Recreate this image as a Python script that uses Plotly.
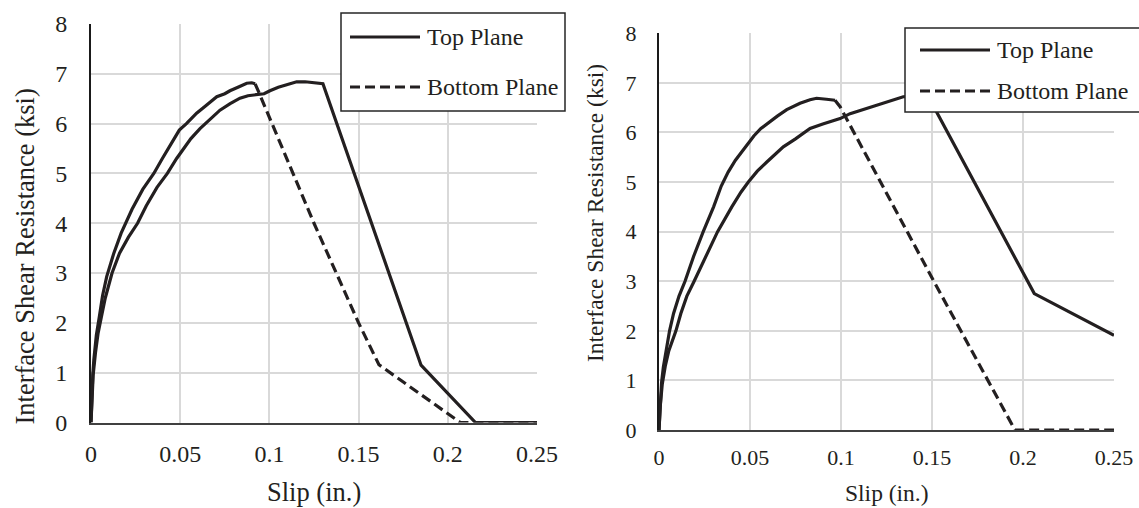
import plotly.graph_objects as go

# ---- data: slip (in.) vs interface shear resistance (ksi) ----
# Specimen A (left panel)
a_top_slip = [0, 0.0005, 0.0012, 0.0025, 0.0040, 0.0057, 0.0080, 0.0118, 0.0160, 0.0210,
              0.0261, 0.0310, 0.0370, 0.0428, 0.0480, 0.0520, 0.0560, 0.0611, 0.0660,
              0.0723, 0.0780, 0.0835, 0.0880, 0.0929, 0.0970, 0.1003, 0.1050, 0.1097, 0.1153,
              0.1200, 0.1250, 0.1300, 0.1850, 0.2155, 0.2500]
a_top_shear = [0, 0.55, 0.95, 1.40, 1.80, 2.10, 2.50, 3.00, 3.40, 3.72,
               4.00, 4.35, 4.72, 5.00, 5.30, 5.50, 5.70, 5.90, 6.06,
               6.27, 6.40, 6.51, 6.56, 6.58, 6.60, 6.66, 6.73, 6.78, 6.84,
               6.84, 6.82, 6.80, 1.15, 0, 0]

a_bot_slip = [0, 0.0005, 0.0010, 0.0016, 0.0030, 0.0047, 0.0065, 0.0088, 0.0128, 0.0169,
              0.0199, 0.0230, 0.0290, 0.0352, 0.0400, 0.0440, 0.0495, 0.0535, 0.0592, 0.0640,
              0.0705, 0.0750, 0.0779, 0.0830, 0.0873, 0.0901, 0.0920,
              0.0943, 0.1250, 0.1500, 0.1614, 0.2070, 0.2500]
a_bot_shear = [0, 0.55, 0.95, 1.26, 1.75, 2.13, 2.55, 2.93, 3.40, 3.80,
               4.02, 4.28, 4.68, 5.00, 5.30, 5.55, 5.87, 6.00, 6.21, 6.35,
               6.54, 6.60, 6.66, 6.74, 6.81, 6.82, 6.80,
               6.61, 4.00, 2.00, 1.16, 0, 0]
a_bot_peak = 26  # last point of the loading branch

# Specimen B (right panel)
b_top_slip = [0, 0.0006, 0.0018, 0.0035, 0.0054, 0.0093, 0.0120, 0.0153, 0.0193, 0.0250,
              0.0322, 0.0400, 0.0451, 0.0491, 0.0540, 0.0591, 0.0683, 0.0750, 0.0830, 0.0900,
              0.0995, 0.1050, 0.1141, 0.1251, 0.1342, 0.1400, 0.1481, 0.1529, 0.2062, 0.2500]
b_top_shear = [0, 0.45, 0.93, 1.30, 1.60, 2.00, 2.35, 2.70, 3.00, 3.45,
               4.00, 4.50, 4.80, 5.00, 5.22, 5.40, 5.71, 5.87, 6.08, 6.17,
               6.28, 6.38, 6.49, 6.62, 6.72, 6.73, 6.72, 6.39, 2.75, 1.91]

b_bot_slip = [0, 0.0006, 0.0014, 0.0024, 0.0058, 0.0080, 0.0110, 0.0143, 0.0190, 0.0243,
              0.0300, 0.0342, 0.0380, 0.0420, 0.0460, 0.0521, 0.0560, 0.0600, 0.0650, 0.0702,
              0.0775, 0.0830, 0.0866, 0.0920, 0.0958, 0.0967,
              0.0995, 0.1510, 0.1956, 0.2500]
b_bot_shear = [0, 0.50, 0.95, 1.27, 2.00, 2.35, 2.70, 3.00, 3.50, 4.00,
               4.50, 4.92, 5.20, 5.44, 5.64, 5.93, 6.08, 6.20, 6.33, 6.46,
               6.59, 6.66, 6.69, 6.67, 6.65, 6.65,
               6.52, 3.00, 0, 0]
b_bot_peak = 25

x_ticks = [0, 0.05, 0.1, 0.15, 0.2, 0.25]
x_tick_text = ["0", "0.05", "0.1", "0.15", "0.2", "0.25"]
y_ticks = [0, 1, 2, 3, 4, 5, 6, 7, 8]
series_names = ["Top Plane", "Bottom Plane"]

# ---- styling ----
W, H = 1139, 508
FONT = "Liberation Serif, Times New Roman, serif"
INK = "#231f20"
GRID = "#d9d9d9"
LW = 3.2
DASH = "10px,5px"


def fx(p):
    return p / W


def fy(p):
    return 1 - p / H


fig = go.Figure()


def add_panel(xa, ya, top_x, top_y, bot_x, bot_y, peak):
    fig.add_trace(go.Scatter(x=top_x, y=top_y, mode="lines", xaxis=xa, yaxis=ya,
                             line=dict(color=INK, width=LW), name=series_names[0],
                             showlegend=False))
    # loading branch of the bottom plane is noisy and reads as a continuous stroke
    fig.add_trace(go.Scatter(x=bot_x[:peak + 1], y=bot_y[:peak + 1], mode="lines",
                             xaxis=xa, yaxis=ya, line=dict(color=INK, width=LW),
                             name=series_names[1], showlegend=False))
    fig.add_trace(go.Scatter(x=bot_x[peak:], y=bot_y[peak:], mode="lines",
                             xaxis=xa, yaxis=ya, line=dict(color=INK, width=LW, dash=DASH),
                             name=series_names[1], showlegend=False))


add_panel("x", "y", a_top_slip, a_top_shear, a_bot_slip, a_bot_shear, a_bot_peak)
add_panel("x2", "y2", b_top_slip, b_top_shear, b_bot_slip, b_bot_shear, b_bot_peak)


def xaxis_cfg(x0, x1, anchor, size, standoff):
    return dict(domain=[fx(x0), fx(x1)], anchor=anchor, range=[0, 0.25],
                tickvals=x_ticks, ticktext=x_tick_text, showgrid=True,
                gridcolor=GRID, gridwidth=1.5, zeroline=False, showline=True,
                linecolor="#404040", linewidth=1.6, ticks="", ticklabelstandoff=standoff,
                tickfont=dict(family=FONT, size=size, color=INK), automargin=False,
                fixedrange=True)


def yaxis_cfg(y0, y1, anchor, size, standoff):
    return dict(domain=[fy(y1), fy(y0)], anchor=anchor, range=[0, 8],
                tickvals=y_ticks, showgrid=True, gridcolor=GRID, gridwidth=1.5,
                zeroline=False, showline=True, linecolor="#1a1a1a", linewidth=2,
                ticks="", ticklabelstandoff=standoff,
                tickfont=dict(family=FONT, size=size, color=INK), automargin=False,
                fixedrange=True)


fig.update_layout(
    width=W, height=H,
    margin=dict(l=0, r=0, t=0, b=0),
    paper_bgcolor="white", plot_bgcolor="white",
    showlegend=False,
    font=dict(family=FONT, color=INK),
    xaxis=xaxis_cfg(91, 537, "y", 24, 9),
    yaxis=yaxis_cfg(24, 422.5, "x", 24, 17),
    xaxis2=xaxis_cfg(659, 1114, "y2", 22, 7),
    yaxis2=yaxis_cfg(33.3, 430, "x2", 22, 16),
)

annotations = []
shapes = []


def axis_titles(xc, xy, yx, yc, size):
    annotations.append(dict(text="Slip (in.)", x=fx(xc), y=fy(xy), xref="paper", yref="paper",
                            xanchor="center", yanchor="middle", showarrow=False,
                            font=dict(family=FONT, size=size, color=INK)))
    annotations.append(dict(text="Interface Shear Resistance (ksi)", x=fx(yx), y=fy(yc),
                            xref="paper", yref="paper", xanchor="center", yanchor="middle",
                            textangle=-90, showarrow=False,
                            font=dict(family=FONT, size=size, color=INK)))


axis_titles(314, 492, 24, 256.5, 26.5)
axis_titles(886.5, 493, 595, 213, 23.5)


def legend_box(x0, x1, y0, y1, line_x0, line_x1, row1, row2):
    shapes.append(dict(type="rect", xref="paper", yref="paper",
                       x0=fx(x0), x1=fx(x1), y0=fy(y1), y1=fy(y0),
                       line=dict(color="#262626", width=1.5), fillcolor="white", layer="above"))
    for row, dash in ((row1, "solid"), (row2, DASH)):
        shapes.append(dict(type="line", xref="paper", yref="paper",
                           x0=fx(line_x0), x1=fx(line_x1), y0=fy(row), y1=fy(row),
                           line=dict(color=INK, width=LW, dash=dash), layer="above"))
    for row, name in ((row1, series_names[0]), (row2, series_names[1])):
        annotations.append(dict(text=name, x=fx(line_x1 + 5), y=fy(row), xref="paper",
                                yref="paper", xanchor="left", yanchor="middle",
                                showarrow=False,
                                font=dict(family=FONT, size=24, color=INK)))


legend_box(341, 565, 13, 111, 350, 420, 37, 87)
legend_box(905, 1150, 28, 112, 920, 990, 50, 91)

fig.update_layout(annotations=annotations, shapes=shapes)
fig.write_html("out.html")
